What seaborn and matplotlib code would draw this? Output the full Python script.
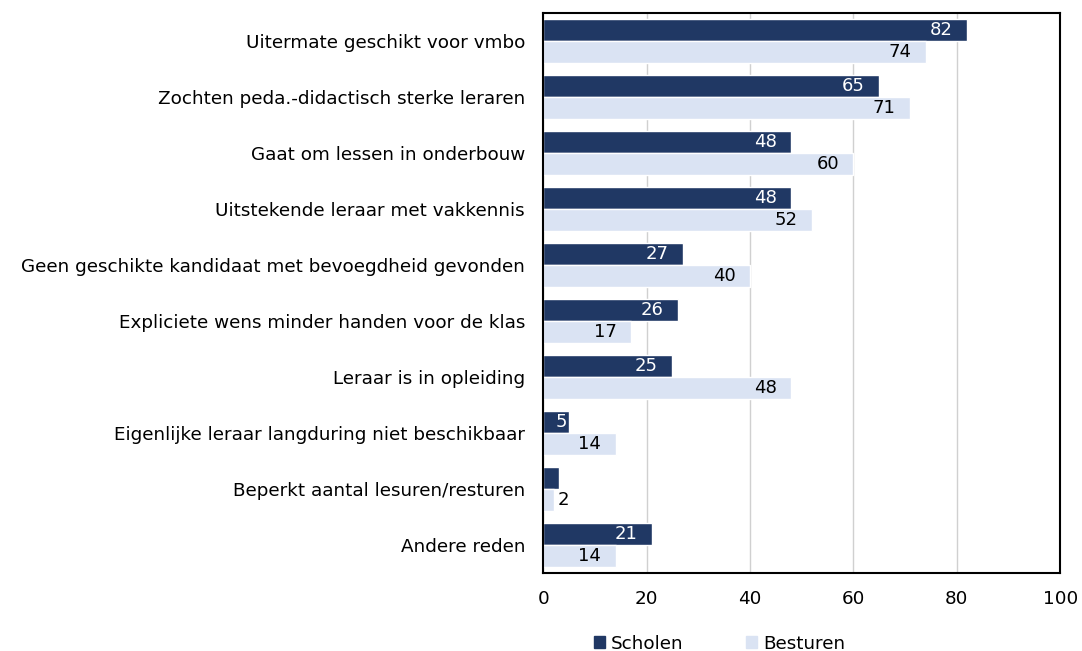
import pandas as pd
import matplotlib.pyplot as plt
import seaborn as sns
from matplotlib.patches import Patch

sns.set_style("white")
plt.rcParams['font.family'] = ['DejaVu Sans']
plt.rcParams['text.color'] = 'black'
plt.rcParams['xtick.color'] = 'black'
plt.rcParams['ytick.color'] = 'black'

categories = [
    "Uitermate geschikt voor vmbo",
    "Zochten peda.-didactisch sterke leraren",
    "Gaat om lessen in onderbouw",
    "Uitstekende leraar met vakkennis",
    "Geen geschikte kandidaat met bevoegdheid gevonden",
    "Expliciete wens minder handen voor de klas",
    "Leraar is in opleiding",
    "Eigenlijke leraar langduring niet beschikbaar",
    "Beperkt aantal lesuren/resturen",
    "Andere reden",
]
scholen = [82, 65, 48, 48, 27, 26, 25, 5, 3, 21]
besturen = [74, 71, 60, 52, 40, 17, 48, 14, 2, 14]
# the 3 for Scholen is not labelled in the original
scholen_labels = ["82", "65", "48", "48", "27", "26", "25", "5", "", "21"]
besturen_labels = ["74", "71", "60", "52", "40", "17", "48", "14", "2", "14"]

df = pd.DataFrame({"categorie": categories * 2,
                   "waarde": scholen + besturen,
                   "groep": ["Scholen"] * 10 + ["Besturen"] * 10})

colors = {"Scholen": "#203864", "Besturen": "#DAE3F3"}

fig, ax = plt.subplots(figsize=(10.82, 6.51), dpi=100)
sns.barplot(data=df, x="waarde", y="categorie", hue="groep", palette=colors,
            width=0.78, saturation=1, ax=ax, legend=False, zorder=2)


def label_bars(container, labels, color):
    for bar, lab in zip(container, labels):
        if not lab:
            continue
        x = bar.get_width()
        y = bar.get_y() + bar.get_height() / 2
        if x < 4:
            # too short, label goes outside
            ax.annotate(lab, (x, y), xytext=(3, 0), textcoords="offset points",
                        ha="left", va="center", color="black", fontsize=13)
        else:
            off = -1.5 if x < 10 else -10.5
            ax.annotate(lab, (x, y), xytext=(off, 0), textcoords="offset points",
                        ha="right", va="center", color=color, fontsize=13)


label_bars(ax.containers[0], scholen_labels, "white")
label_bars(ax.containers[1], besturen_labels, "black")

ax.set_xlim(0, 100)
ax.set_xticks([0, 20, 40, 60, 80, 100])
ax.grid(axis="x", color="#d0d0d0", linewidth=1, zorder=0)
ax.set_axisbelow(True)
ax.set_xlabel("")
ax.set_ylabel("")
ax.tick_params(axis="both", labelsize=13.2, length=0)
ax.tick_params(axis="x", pad=12)
ax.tick_params(axis="y", pad=13)
for s in ax.spines.values():
    s.set_visible(True)
    s.set_color("black")
    s.set_linewidth(1.5)

handles = [Patch(color=colors["Scholen"], label="Scholen"),
           Patch(color=colors["Besturen"], label="Besturen")]
fig.legend(handles=handles, loc="lower center", ncol=2, frameon=False,
           fontsize=13.2, handlelength=0.6, handleheight=0.6,
           handletextpad=0.35, columnspacing=3.4, bbox_to_anchor=(0.665, -0.028))

plt.subplots_adjust(left=0.502, right=0.98, top=0.98, bottom=0.12)
plt.savefig("out.png", dpi=100)
